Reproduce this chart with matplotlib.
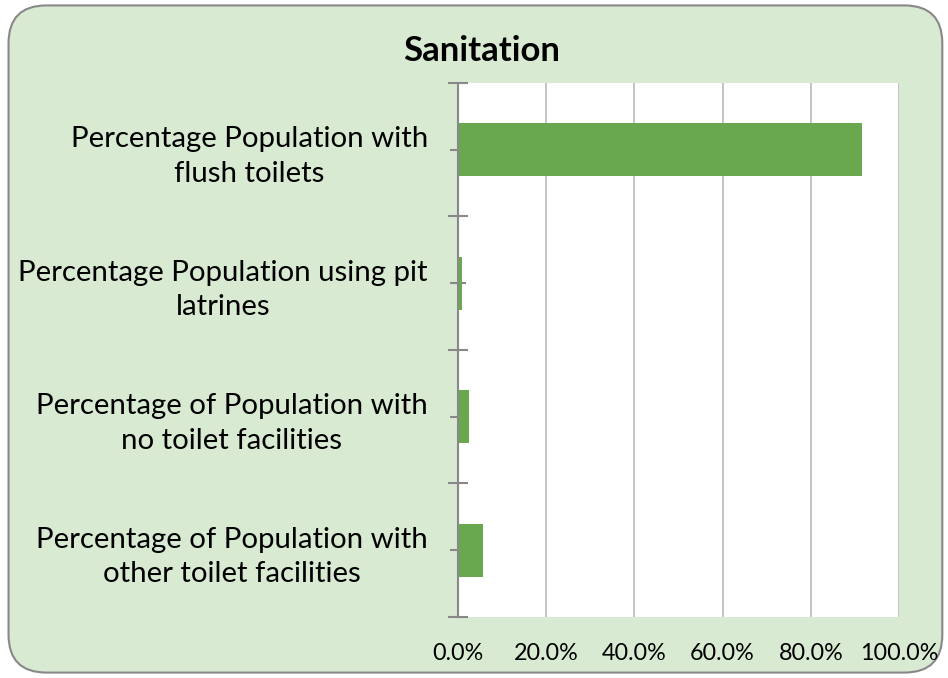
import matplotlib
matplotlib.use("Agg")
from matplotlib import pyplot as plt
from matplotlib.patches import FancyBboxPatch
from matplotlib.ticker import FuncFormatter, FixedLocator

categories = ["Percentage Population with\nflush toilets",
              "Percentage Population using pit\nlatrines",
              "Percentage of Population with\nno toilet facilities",
              "Percentage of Population with\nother toilet facilities"]
values = [91.5, 1.0, 2.5, 5.7]
x_ticks = [0, 20, 40, 60, 80, 100]

plt.rcParams['font.family'] = ['Lato', 'DejaVu Sans']

fig = plt.figure(figsize=(9.48, 6.78), dpi=100)
fig.patch.set_facecolor('white')

# rounded chart background
bg = FancyBboxPatch((0.009, 0.008), 0.985, 0.984, boxstyle="round,pad=0,rounding_size=0.04",
                    transform=fig.transFigure, facecolor='#d9ead3', edgecolor='#888888',
                    linewidth=1.5, mutation_aspect=948 / 678, zorder=-5)
fig.patches.append(bg)

ax = fig.add_axes([0.4831, 0.0900, 0.4652, 0.7876])
ax.set_facecolor('white')

y = range(len(categories))
ax.barh(y, values, height=0.4, color='#6aa84f', zorder=3)

ax.set_xlim(0, 100)
ax.set_ylim(len(categories) - 0.5, -0.5)
ax.xaxis.set_major_locator(FixedLocator(x_ticks))
ax.xaxis.set_major_formatter(FuncFormatter(lambda v, p: f"{v:.1f}%"))
ax.grid(axis='x', color='#bfbfbf', linewidth=1.3, zorder=0)
ax.tick_params(axis='x', length=0, pad=19, labelsize=16.8, labelcolor='black')

ax.set_yticks(list(y))
ax.set_yticklabels(categories, ma='center', fontsize=21.2, linespacing=1.4)
ax.set_yticks([i - 0.5 for i in range(len(categories) + 1)], minor=True)
ax.tick_params(axis='y', which='major', direction='inout', length=11.5, width=1.5, color='#888888', pad=16)
ax.tick_params(axis='y', which='minor', direction='inout', length=14.5, width=1.5, color='#888888')

for s in ['top', 'right', 'bottom']:
    ax.spines[s].set_visible(False)
ax.spines['left'].set_color('#888888')
ax.spines['left'].set_linewidth(1.5)
ax.spines['left'].set_zorder(4)

fig.text(0.508, 0.925, "Sanitation", ha='center', va='center', fontsize=25, fontweight='bold')

plt.savefig('out.png', dpi=100)
